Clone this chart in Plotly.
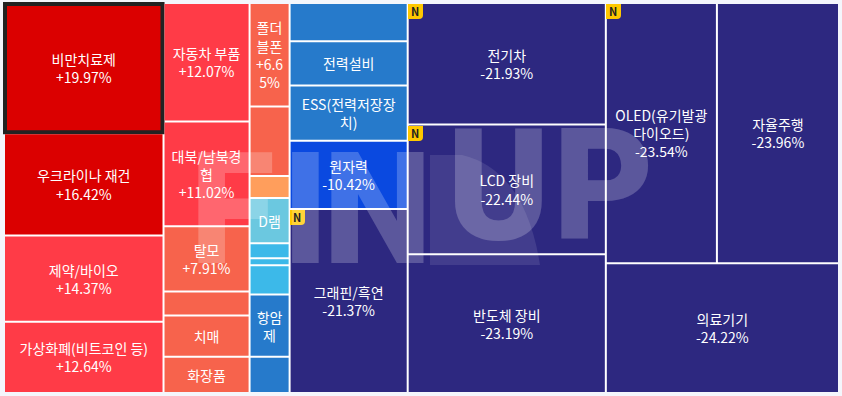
import plotly.graph_objects as go

# sector groups (columns of the map), top to bottom
col_a = ["비만치료제", "우크라이나 재건", "제약/바이오", "가상화폐(비트코인 등)"]
col_a_val = [20670, 16218, 13674, 11289]
col_a_txt = ["비만치료제<br>+19.97%", "우크라이나 재건<br>+16.42%", "제약/바이오<br>+14.37%", "가상화폐(비트코인 등)<br>+12.64%"]
col_a_col = ["#DB0000", "#DB0000", "#FF3B47", "#FF3B47"]

col_b = ["자동차 부품", "대북/남북경협", "탈모", "b4", "치매", "화장품"]
col_b_val = [10148, 8944, 5590, 2064, 3526, 3096]
col_b_txt = ["자동차 부품<br>+12.07%", "대북/남북경<br>협<br>+11.02%", "탈모<br>+7.91%", "", "치매", "화장품"]
col_b_col = ["#FF3B47", "#FF3B47", "#F7634C", "#F7634C", "#F7634C", "#F7634C"]

col_c = ["폴더블폰", "c2", "c3", "D램", "c5", "c6", "c7", "항암제", "c9"]
col_c_val = [4120, 2760, 880, 1800, 600, 280, 1160, 2480, 1440]
col_c_txt = ["폴더<br>블폰<br>+6.6<br>5%", "", "", "D램", "", "", "", "항암<br>제", ""]
col_c_col = ["#F7634C", "#F7634C", "#FF9E5C", "#6BC8E0", "#3CB9E9", "#3CB9E9", "#3CB9E9", "#267ACB", "#267ACB"]

col_d = ["d1", "전력설비", "ESS(전력저장장치)", "원자력", "그래핀/흑연"]
col_d_val = [4484, 5192, 6490, 8024, 21594]
col_d_txt = ["", "전력설비", "ESS(전력저장장<br>치)", "원자력<br>-10.42%", "그래핀/흑연<br>-21.37%"]
col_d_col = ["#267ACB", "#267ACB", "#267ACB", "#0A49E0", "#2D2880"]

col_e = ["전기차", "LCD 장비", "반도체 장비"]
col_e_val = [23958, 25542, 27324]
col_e_txt = ["전기차<br>-21.93%", "LCD 장비<br>-22.44%", "반도체 장비<br>-23.19%"]
col_e_col = ["#2D2880"] * 3

col_f_top = ["OLED(유기발광다이오드)", "자율주행"]
col_f_top_val = [28749, 31598]
col_f_top_txt = ["OLED(유기발광<br>다이오드)<br>-23.54%", "자율주행<br>-23.96%"]
col_f_top_col = ["#2D2880"] * 2

col_f_bot = ["의료기기"]
col_f_bot_val = [30057]
col_f_bot_txt = ["의료기기<br>-24.22%"]
col_f_bot_col = ["#2D2880"]

new_badges = ["그래핀/흑연", "전기차", "LCD 장비", "OLED(유기발광다이오드)"]

BG = "#F4F6FC"
GAP = "#FFFFFF"
W, H = 842, 396
ids, parents, vals, txts, cols, lw, lc = [], [], [], [], [], [], []


def add(i, p, v=0, t="", c=GAP, w=0, k=GAP):
    ids.append(i); parents.append(p); vals.append(v); txts.append(t); cols.append(c); lw.append(w); lc.append(k)


add("root", "")
for name, names, v, t, c in [
    ("A", col_a, col_a_val, col_a_txt, col_a_col),
    ("B", col_b, col_b_val, col_b_txt, col_b_col),
    ("C", col_c, col_c_val, col_c_txt, col_c_col),
    ("D", col_d, col_d_val, col_d_txt, col_d_col),
    ("E", col_e, col_e_val, col_e_txt, col_e_col),
]:
    add(name, "root")
    for n, vv, tt, cc in zip(names, v, t, c):
        add(n, name, vv, tt, cc)

add("F", "root")
add("Ftop", "F")
for n, vv, tt, cc in zip(col_f_top, col_f_top_val, col_f_top_txt, col_f_top_col):
    add(n, "Ftop", vv, tt, cc)
for n, vv, tt, cc in zip(col_f_bot, col_f_bot_val, col_f_bot_txt, col_f_bot_col):
    add(n, "F", vv, tt, cc)

# highlighted sector
lw[ids.index(col_a[0])] = 4
lc[ids.index(col_a[0])] = "#222222"

fig = go.Figure(go.Treemap(
    ids=ids, labels=ids, parents=parents, values=vals, text=txts,
    branchvalues="remainder", sort=False, textinfo="text",
    textposition="middle center", hoverinfo="skip",
    textfont=dict(family="Noto Sans CJK KR", size=14, color="#FFFFFF"),
    marker=dict(colors=cols, line=dict(width=lw, color=lc), pad=dict(t=0, l=0, r=0, b=0)),
    tiling=dict(packing="slice-dice", pad=2),
    pathbar=dict(visible=False),
    root=dict(color=GAP),
    domain=dict(x=[5 / W, 838 / W], y=[4 / H, 392 / H]),
))

def px(x):
    return f"{x / W:.5f}"


def py(y):
    return f"{1 - y / H:.5f}"


WM = "rgba(255,255,255,0.22)"
watermark = [("F", 188, 210), ("I", 280, 210), ("N", 321, 210), ("U", 445, 186), ("P", 551, 186)]
anns = [dict(xref="paper", yref="paper", xanchor="left", yanchor="middle", showarrow=False,
             x=x / W, y=1 - y / H, text=t,
             font=dict(family="Roboto", size=155, weight=900, color=WM))
        for t, x, y in watermark]

shapes = [dict(type="path", xref="paper", yref="paper", line_width=0, fillcolor="rgba(255,255,255,0.10)",
               path=f"M {px(430)} {py(155)} L {px(462)} {py(155)} Q {px(525)} {py(170)} {px(540)} {py(265)} L {px(430)} {py(265)} Z")]

badge_pos = {"그래핀/흑연": (290, 210), "전기차": (408, 4), "LCD 장비": (408, 126), "OLED(유기발광다이오드)": (606, 4)}
for b in new_badges:
    x, y = badge_pos[b]
    shapes.append(dict(type="path", xref="paper", yref="paper", line_width=0, fillcolor="#FFC800",
                       path=f"M {px(x)} {py(y)} L {px(x + 15)} {py(y)} L {px(x + 15)} {py(y + 11)} "
                            f"Q {px(x + 15)} {py(y + 15)} {px(x + 11)} {py(y + 15)} L {px(x)} {py(y + 15)} Z"))
    anns.append(dict(xref="paper", yref="paper", xanchor="center", yanchor="middle", showarrow=False,
                     x=(x + 7) / W, y=1 - (y + 7) / H, text="N",
                     font=dict(family="Noto Sans CJK KR", size=11, weight=700, color="#222222")))

fig.update_layout(width=W, height=H, margin=dict(l=0, r=0, t=0, b=0),
                  paper_bgcolor=BG, annotations=anns, shapes=shapes, showlegend=False)
fig.write_html("out.html", config=dict(displayModeBar=False),
               post_script="document.body.style.margin='0';document.documentElement.style.overflow='hidden';")
